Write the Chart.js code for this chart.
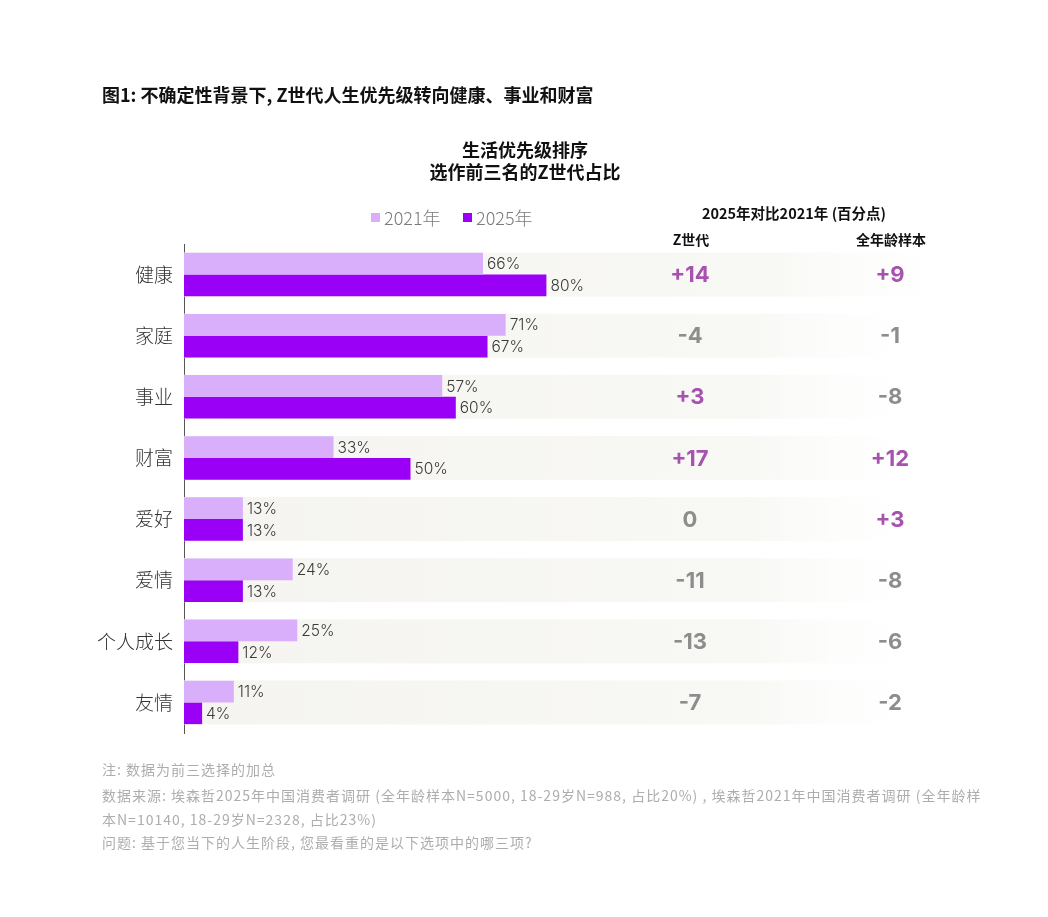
<!DOCTYPE html>
<html>
<head>
<meta charset="utf-8">
<script src="https://cdn.jsdelivr.net/npm/chart.js@4/dist/chart.umd.min.js"></script>
<style>
  html, body { margin: 0; padding: 0; background: #fff; }
  #wrap { width: 1048px; height: 917px; position: relative; }
</style>
</head>
<body>
<div id="wrap"><canvas id="bar-chart"></canvas></div>
<script>
// data
var categories = ["健康", "家庭", "事业", "财富", "爱好", "爱情", "个人成长", "友情"];
var share2021 = [66, 71, 57, 33, 13, 24, 25, 11];
var share2025 = [80, 67, 60, 50, 13, 13, 12, 4];
var deltaGenZ = [14, -4, 3, 17, 0, -11, -13, -7];
var deltaAllAges = [9, -1, -8, 12, 3, -8, -6, -2];

var CJK = '"Noto Sans CJK SC", "Noto Sans", sans-serif';
var NUM = 'Inter, "Noto Sans", sans-serif';

var notes = [
  "注: 数据为前三选择的加总",
  "数据来源: 埃森哲2025年中国消费者调研 (全年龄样本N=5000, 18-29岁N=988, 占比20%) , 埃森哲2021年中国消费者调研 (全年龄样",
  "本N=10140, 18-29岁N=2328, 占比23%)",
  "问题: 基于您当下的人生阶段, 您最看重的是以下选项中的哪三项?"
];

function fmtDelta(v) { return v > 0 ? "+" + v : String(v); }

// grey row bands behind the bars and into the comparison columns
var bandPlugin = {
  id: "bands",
  beforeDatasetsDraw: function (chart) {
    var ctx = chart.ctx, y = chart.scales.y, left = chart.chartArea.left;
    categories.forEach(function (c, i) {
      var cy = y.getPixelForValue(i);
      var end = i === 0 ? 975 : 945;
      var g = ctx.createLinearGradient(left, 0, end, 0);
      g.addColorStop(0, "#f5f4f0");
      g.addColorStop(0.75, "#f8f8f5");
      g.addColorStop(1, "rgba(255,255,255,0)");
      ctx.save();
      ctx.fillStyle = g;
      ctx.fillRect(left, cy - 22, end - left, 44);
      ctx.restore();
    });
  }
};

// titles, legend, value labels, deltas and notes
var textPlugin = {
  id: "texts",
  afterDatasetsDraw: function (chart) {
    var ctx = chart.ctx, y = chart.scales.y;
    ctx.save();
    ctx.textBaseline = "middle";

    // value labels
    ctx.font = "300 15.5px " + NUM;
    ctx.fillStyle = "#3a3a3a";
    ctx.textAlign = "left";
    chart.data.datasets.forEach(function (ds, di) {
      chart.getDatasetMeta(di).data.forEach(function (bar, i) {
        ctx.fillText(ds.data[i] + "%", bar.x + 4, bar.y + 1);
      });
    });

    // delta columns
    ctx.font = "bold 22px " + NUM;
    ctx.textAlign = "center";
    categories.forEach(function (c, i) {
      var cy = y.getPixelForValue(i) + 1;
      ctx.fillStyle = deltaGenZ[i] > 0 ? "#a852b0" : "#8d8d8d";
      ctx.fillText(fmtDelta(deltaGenZ[i]), 690, cy);
      ctx.fillStyle = deltaAllAges[i] > 0 ? "#a852b0" : "#8d8d8d";
      ctx.fillText(fmtDelta(deltaAllAges[i]), 890, cy);
    });
    ctx.restore();
  },
  afterDraw: function (chart) {
    var ctx = chart.ctx;
    ctx.save();
    ctx.textBaseline = "middle";

    ctx.fillStyle = "#111";
    ctx.textAlign = "left";
    ctx.font = "bold 18px " + CJK;
    ctx.fillText("图1: 不确定性背景下, Z世代人生优先级转向健康、事业和财富", 102, 95);

    ctx.textAlign = "center";
    ctx.font = "bold 18px " + CJK;
    ctx.fillText("生活优先级排序", 525, 150);
    ctx.fillText("选作前三名的Z世代占比", 525, 172);

    ctx.font = "bold 14.5px " + CJK;
    ctx.fillText("2025年对比2021年 (百分点)", 794, 213);
    ctx.font = "bold 14px " + CJK;
    ctx.fillText("Z世代", 691, 240);
    ctx.fillText("全年龄样本", 891, 240);

    // legend
    ctx.textAlign = "left";
    ctx.font = "300 18px " + CJK;
    var lx = [371, 463];
    chart.data.datasets.forEach(function (ds, di) {
      ctx.fillStyle = ds.backgroundColor;
      ctx.fillRect(lx[di], 213, 9, 9);
      ctx.fillStyle = "#7a7a7a";
      ctx.fillText(ds.label, lx[di] + 13, 218);
    });

    // notes
    ctx.font = "14px " + CJK;
    ctx.letterSpacing = "1px";
    ctx.fillStyle = "#adadad";
    var ny = [770, 796, 820, 843];
    notes.forEach(function (t, i) { ctx.fillText(t, 102, ny[i]); });
    ctx.restore();
  }
};

new Chart(document.getElementById("bar-chart"), {
  type: "bar",
  data: {
    labels: categories,
    datasets: [
      { label: "2021年", data: share2021, backgroundColor: "#d9aefb" },
      { label: "2025年", data: share2025, backgroundColor: "#9900f5" }
    ]
  },
  options: {
    indexAxis: "y",
    responsive: true,
    maintainAspectRatio: false,
    animation: false,
    events: [],
    layout: { padding: { left: 0, right: 411, top: 244, bottom: 184 } },
    datasets: { bar: { categoryPercentage: 0.71, barPercentage: 1 } },
    plugins: { legend: { display: false }, tooltip: { enabled: false } },
    scales: {
      x: { display: false, min: 0, max: 100 },
      y: {
        afterFit: function (scale) { scale.width = 184; },
        grid: { display: false, drawTicks: false },
        border: { display: true, color: "#555", width: 1 },
        ticks: { padding: 11, color: "#333", font: { size: 19, family: CJK, weight: 300 } }
      }
    }
  },
  plugins: [bandPlugin, textPlugin]
});
</script>
</body>
</html>
